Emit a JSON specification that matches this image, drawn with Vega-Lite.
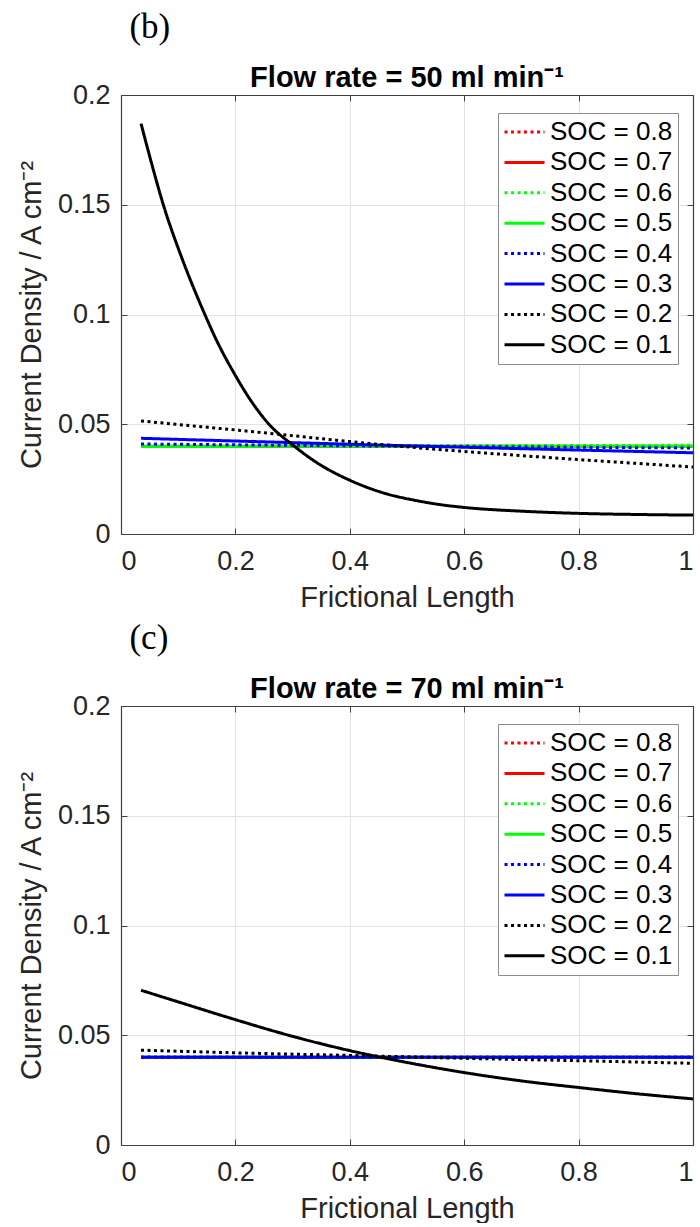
{
  "$schema": "https://vega.github.io/schema/vega-lite/v6.json",
  "padding": {"left": 17, "top": 10, "right": 4, "bottom": 0},
  "background": "white",
  "datasets": {
    "b": [
      {"soc": "SOC = 0.8", "x": 0.035, "y": 0.0400}, {"soc": "SOC = 0.8", "x": 1.0, "y": 0.0400},
      {"soc": "SOC = 0.7", "x": 0.035, "y": 0.0400}, {"soc": "SOC = 0.7", "x": 1.0, "y": 0.0400},
      {"soc": "SOC = 0.6", "x": 0.035, "y": 0.0400}, {"soc": "SOC = 0.6", "x": 1.0, "y": 0.0404},
      {"soc": "SOC = 0.5", "x": 0.035, "y": 0.0399}, {"soc": "SOC = 0.5", "x": 1.0, "y": 0.0400},
      {"soc": "SOC = 0.4", "x": 0.035, "y": 0.0410}, {"soc": "SOC = 0.4", "x": 0.5, "y": 0.0400}, {"soc": "SOC = 0.4", "x": 1.0, "y": 0.0392},
      {"soc": "SOC = 0.3", "x": 0.035, "y": 0.0436}, {"soc": "SOC = 0.3", "x": 0.5, "y": 0.0402}, {"soc": "SOC = 0.3", "x": 1.0, "y": 0.0370},
      {"soc": "SOC = 0.2", "x": 0.035, "y": 0.0515}, {"soc": "SOC = 0.2", "x": 0.14, "y": 0.0489}, {"soc": "SOC = 0.2", "x": 0.2, "y": 0.0474}, {"soc": "SOC = 0.2", "x": 0.3, "y": 0.0448}, {"soc": "SOC = 0.2", "x": 0.4, "y": 0.0421}, {"soc": "SOC = 0.2", "x": 0.5, "y": 0.0397}, {"soc": "SOC = 0.2", "x": 0.6, "y": 0.0376}, {"soc": "SOC = 0.2", "x": 0.7, "y": 0.0357}, {"soc": "SOC = 0.2", "x": 0.8, "y": 0.0339}, {"soc": "SOC = 0.2", "x": 0.9, "y": 0.0322}, {"soc": "SOC = 0.2", "x": 1.0, "y": 0.0305},
      {"soc": "SOC = 0.1", "x": 0.035, "y": 0.187}, {"soc": "SOC = 0.1", "x": 0.05, "y": 0.1722}, {"soc": "SOC = 0.1", "x": 0.074, "y": 0.150}, {"soc": "SOC = 0.1", "x": 0.106, "y": 0.126}, {"soc": "SOC = 0.1", "x": 0.14, "y": 0.104}, {"soc": "SOC = 0.1", "x": 0.169, "y": 0.0872}, {"soc": "SOC = 0.1", "x": 0.2, "y": 0.0722}, {"soc": "SOC = 0.1", "x": 0.227, "y": 0.0608}, {"soc": "SOC = 0.1", "x": 0.256, "y": 0.0508}, {"soc": "SOC = 0.1", "x": 0.303, "y": 0.0400}, {"soc": "SOC = 0.1", "x": 0.343, "y": 0.0324}, {"soc": "SOC = 0.1", "x": 0.4, "y": 0.0245}, {"soc": "SOC = 0.1", "x": 0.459, "y": 0.0187}, {"soc": "SOC = 0.1", "x": 0.517, "y": 0.0152}, {"soc": "SOC = 0.1", "x": 0.558, "y": 0.0134}, {"soc": "SOC = 0.1", "x": 0.6, "y": 0.0121}, {"soc": "SOC = 0.1", "x": 0.7, "y": 0.0104}, {"soc": "SOC = 0.1", "x": 0.8, "y": 0.0094}, {"soc": "SOC = 0.1", "x": 0.9, "y": 0.0089}, {"soc": "SOC = 0.1", "x": 1.0, "y": 0.0086}
    ],
    "c": [
      {"soc": "SOC = 0.8", "x": 0.035, "y": 0.0400}, {"soc": "SOC = 0.8", "x": 1.0, "y": 0.0400},
      {"soc": "SOC = 0.7", "x": 0.035, "y": 0.0400}, {"soc": "SOC = 0.7", "x": 1.0, "y": 0.0400},
      {"soc": "SOC = 0.6", "x": 0.035, "y": 0.0400}, {"soc": "SOC = 0.6", "x": 1.0, "y": 0.0400},
      {"soc": "SOC = 0.5", "x": 0.035, "y": 0.0400}, {"soc": "SOC = 0.5", "x": 1.0, "y": 0.0400},
      {"soc": "SOC = 0.4", "x": 0.035, "y": 0.0400}, {"soc": "SOC = 0.4", "x": 1.0, "y": 0.0400},
      {"soc": "SOC = 0.3", "x": 0.035, "y": 0.0400}, {"soc": "SOC = 0.3", "x": 1.0, "y": 0.0400},
      {"soc": "SOC = 0.2", "x": 0.035, "y": 0.0432}, {"soc": "SOC = 0.2", "x": 0.2, "y": 0.0420}, {"soc": "SOC = 0.2", "x": 0.4, "y": 0.0408}, {"soc": "SOC = 0.2", "x": 0.6, "y": 0.0395}, {"soc": "SOC = 0.2", "x": 0.8, "y": 0.0384}, {"soc": "SOC = 0.2", "x": 1.0, "y": 0.0372},
      {"soc": "SOC = 0.1", "x": 0.035, "y": 0.0705}, {"soc": "SOC = 0.1", "x": 0.1, "y": 0.0652}, {"soc": "SOC = 0.1", "x": 0.2, "y": 0.0571}, {"soc": "SOC = 0.1", "x": 0.3, "y": 0.0495}, {"soc": "SOC = 0.1", "x": 0.4, "y": 0.0430}, {"soc": "SOC = 0.1", "x": 0.5, "y": 0.0376}, {"soc": "SOC = 0.1", "x": 0.6, "y": 0.0330}, {"soc": "SOC = 0.1", "x": 0.7, "y": 0.0292}, {"soc": "SOC = 0.1", "x": 0.8, "y": 0.0262}, {"soc": "SOC = 0.1", "x": 0.9, "y": 0.0234}, {"soc": "SOC = 0.1", "x": 1.0, "y": 0.0210}
    ]
  },
  "config": {
    "view": {"stroke": null},
    "font": "Liberation Sans",
    "axis": {
      "labelFont": "Liberation Sans", "labelFontSize": 27, "labelColor": "#262626",
      "titleFont": "Liberation Sans", "titleFontSize": 29, "titleFontWeight": "normal", "titleColor": "#262626",
      "domainColor": "#404040", "domainWidth": 1.2, "tickColor": "#404040", "tickSize": -6, "tickWidth": 1,
      "gridColor": "#e2e2e2", "gridWidth": 1
    },
    "title": {"font": "Liberation Sans", "fontSize": 29, "fontWeight": "bold", "color": "#000000"}
  },
  "resolve": {"scale": {"color": "independent", "strokeDash": "independent"}},
  "spacing": 9,
  "vconcat": [
    {
      "title": {"text": "(b)", "font": "Liberation Serif", "fontSize": 35, "fontWeight": "normal", "anchor": "start", "dx": 112, "offset": 19},
      "vconcat": [
        {
          "title": {"text": "Flow rate = 50 ml min⁻¹", "anchor": "middle", "offset": -12},
          "width": 572, "height": 439,
          "data": {"name": "b"},
          "layer": [
            {
              "mark": {"type": "line", "strokeWidth": 3, "clip": false, "interpolate": "monotone"},
              "encoding": {
                "x": {"field": "x", "type": "quantitative", "scale": {"domain": [0, 1], "nice": false, "zero": false},
                      "axis": {"orient": "bottom", "values": [0, 0.2, 0.4, 0.6, 0.8, 1], "format": "~g", "title": "Frictional Length", "labelPadding": 20, "titlePadding": 9, "grid": true}},
                "y": {"field": "y", "type": "quantitative", "scale": {"domain": [0, 0.2], "nice": false},
                      "axis": {"orient": "left", "values": [0, 0.05, 0.1, 0.15, 0.2], "format": "~g", "title": "Current Density / A cm⁻²", "labelPadding": 17, "titlePadding": 11, "grid": true}},
                "color": {"field": "soc", "type": "nominal",
                          "scale": {"domain": ["SOC = 0.8", "SOC = 0.7", "SOC = 0.6", "SOC = 0.5", "SOC = 0.4", "SOC = 0.3", "SOC = 0.2", "SOC = 0.1"],
                                    "range": ["#ff0000", "#ff0000", "#00ff00", "#00ff00", "#0000ff", "#0000ff", "#000000", "#000000"]},
                          "legend": {"orient": "none", "legendX": 377, "legendY": 18, "title": null, "symbolType": "stroke", "symbolSize": 1600, "symbolStrokeWidth": 3, "labelFont": "Liberation Sans", "labelFontSize": 26, "labelColor": "#000000", "strokeColor": "#8c8c8c", "fillColor": "#ffffff", "padding": 5, "clipHeight": 28, "rowPadding": 2.4, "labelOffset": 4}},
                "strokeDash": {"field": "soc", "type": "nominal",
                          "scale": {"domain": ["SOC = 0.8", "SOC = 0.7", "SOC = 0.6", "SOC = 0.5", "SOC = 0.4", "SOC = 0.3", "SOC = 0.2", "SOC = 0.1"],
                                    "range": [[3, 3.5], [1, 0], [3, 3.5], [1, 0], [3, 3.5], [1, 0], [3, 3.5], [1, 0]]},
                          "legend": {"orient": "none", "legendX": 377, "legendY": 18, "title": null, "symbolType": "stroke", "symbolSize": 1600, "symbolStrokeWidth": 3, "labelFont": "Liberation Sans", "labelFontSize": 26, "labelColor": "#000000", "strokeColor": "#8c8c8c", "fillColor": "#ffffff", "padding": 5, "clipHeight": 28, "rowPadding": 2.4, "labelOffset": 4}}
              }
            },
            {
              "mark": {"type": "line", "opacity": 0},
              "encoding": {
                "x": {"field": "x", "type": "quantitative", "axis": {"orient": "top", "values": [0, 0.2, 0.4, 0.6, 0.8, 1], "labels": false, "grid": false, "title": null}},
                "y": {"field": "y", "type": "quantitative", "axis": {"orient": "right", "values": [0, 0.05, 0.1, 0.15, 0.2], "labels": false, "grid": false, "title": null}}
              }
            }
          ]
        }
      ]
    },
    {
      "title": {"text": "(c)", "font": "Liberation Serif", "fontSize": 35, "fontWeight": "normal", "anchor": "start", "dx": 112, "offset": 19},
      "vconcat": [
        {
          "title": {"text": "Flow rate = 70 ml min⁻¹", "anchor": "middle", "offset": -12},
          "width": 572, "height": 439,
          "data": {"name": "c"},
          "layer": [
            {
              "mark": {"type": "line", "strokeWidth": 3, "clip": false, "interpolate": "monotone"},
              "encoding": {
                "x": {"field": "x", "type": "quantitative", "scale": {"domain": [0, 1], "nice": false, "zero": false},
                      "axis": {"orient": "bottom", "values": [0, 0.2, 0.4, 0.6, 0.8, 1], "format": "~g", "title": "Frictional Length", "labelPadding": 20, "titlePadding": 9, "grid": true}},
                "y": {"field": "y", "type": "quantitative", "scale": {"domain": [0, 0.2], "nice": false},
                      "axis": {"orient": "left", "values": [0, 0.05, 0.1, 0.15, 0.2], "format": "~g", "title": "Current Density / A cm⁻²", "labelPadding": 17, "titlePadding": 11, "grid": true}},
                "color": {"field": "soc", "type": "nominal",
                          "scale": {"domain": ["SOC = 0.8", "SOC = 0.7", "SOC = 0.6", "SOC = 0.5", "SOC = 0.4", "SOC = 0.3", "SOC = 0.2", "SOC = 0.1"],
                                    "range": ["#ff0000", "#ff0000", "#00ff00", "#00ff00", "#0000ff", "#0000ff", "#000000", "#000000"]},
                          "legend": {"orient": "none", "legendX": 377, "legendY": 18, "title": null, "symbolType": "stroke", "symbolSize": 1600, "symbolStrokeWidth": 3, "labelFont": "Liberation Sans", "labelFontSize": 26, "labelColor": "#000000", "strokeColor": "#8c8c8c", "fillColor": "#ffffff", "padding": 5, "clipHeight": 28, "rowPadding": 2.4, "labelOffset": 4}},
                "strokeDash": {"field": "soc", "type": "nominal",
                          "scale": {"domain": ["SOC = 0.8", "SOC = 0.7", "SOC = 0.6", "SOC = 0.5", "SOC = 0.4", "SOC = 0.3", "SOC = 0.2", "SOC = 0.1"],
                                    "range": [[3, 3.5], [1, 0], [3, 3.5], [1, 0], [3, 3.5], [1, 0], [3, 3.5], [1, 0]]},
                          "legend": {"orient": "none", "legendX": 377, "legendY": 18, "title": null, "symbolType": "stroke", "symbolSize": 1600, "symbolStrokeWidth": 3, "labelFont": "Liberation Sans", "labelFontSize": 26, "labelColor": "#000000", "strokeColor": "#8c8c8c", "fillColor": "#ffffff", "padding": 5, "clipHeight": 28, "rowPadding": 2.4, "labelOffset": 4}}
              }
            },
            {
              "mark": {"type": "line", "opacity": 0},
              "encoding": {
                "x": {"field": "x", "type": "quantitative", "axis": {"orient": "top", "values": [0, 0.2, 0.4, 0.6, 0.8, 1], "labels": false, "grid": false, "title": null}},
                "y": {"field": "y", "type": "quantitative", "axis": {"orient": "right", "values": [0, 0.05, 0.1, 0.15, 0.2], "labels": false, "grid": false, "title": null}}
              }
            }
          ]
        }
      ]
    }
  ]
}
